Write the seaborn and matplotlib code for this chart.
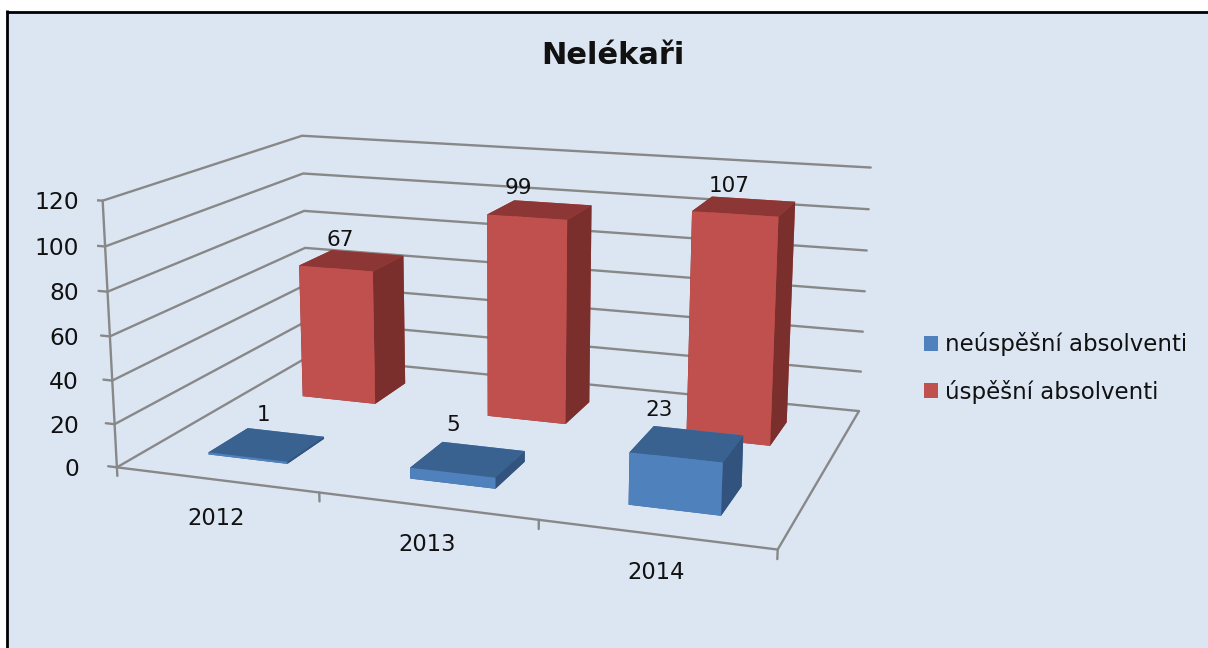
import matplotlib
matplotlib.use("Agg")
import matplotlib.pyplot as plt
from matplotlib.patches import Patch, Rectangle
from mpl_toolkits.mplot3d import proj3d
import seaborn as sns

years = ["2012", "2013", "2014"]
series_names = ["neúspěšní absolventi", "úspěšní absolventi"]
neuspesni = [1, 5, 23]
uspesni = [67, 99, 107]
z_ticks = [0, 20, 40, 60, 80, 100, 120]

W, H = 1208, 648

sns.set_theme(style="white")
plt.rcParams["font.family"] = ["DejaVu Sans"]

BG = "#DCE6F2"
GRID = "#888888"
TEXT = "#111111"
palette = sns.color_palette(["#4F81BD", "#C0504D"])
blue_faces = ["#4F81BD", "#3A6290", "#31537E"]  # front, top, side
red_faces = ["#C0504D", "#8C3735", "#7B2F2D"]

fig = plt.figure(figsize=(W / 100, H / 100), dpi=100, facecolor="white")
# chart area, black border only on left and top
fig.add_artist(Rectangle((8 / W, 0), 1, 1 - 12 / H, transform=fig.transFigure, facecolor=BG, edgecolor="none", zorder=-5))
fig.add_artist(plt.Line2D([7.5 / W, 7.5 / W], [0, 1 - 10 / H], color="black", lw=2, solid_capstyle="butt", zorder=-4))
fig.add_artist(plt.Line2D([6 / W, 1], [1 - 11.5 / H, 1 - 11.5 / H], color="black", lw=2, solid_capstyle="butt", zorder=-4))

# camera fitted against the reference's wall corners
side = 794.8
cx, cy = 494.8, 323.5
ax = fig.add_axes([(cx - side / 2) / W, 1 - (cy + side / 2) / H, side / W, side / H], projection="3d")
ax.patch.set_alpha(0)
ax.computed_zorder = False
ax.set_proj_type("persp", focal_length=0.4334)
ax.view_init(elev=14.06, azim=-70.36, roll=0)
ax.set_box_aspect((1, 0.6609, 0.4055), zoom=1.0)
ax.set_xlim(0, 3, view_margin=0)
ax.set_ylim(0, 2, view_margin=0)
ax.set_zlim(0, 120, view_margin=0)
ax.set_axis_off()

# walls and floor
for v in z_ticks:
    ax.plot([0, 0, 3], [0, 2, 2], [v, v, v], color=GRID, lw=1.7, zorder=1)
ax.plot([0, 3, 3], [0, 0, 2], [0, 0, 0], color=GRID, lw=1.7, zorder=1)
ax.plot([0, 0], [0, 0], [0, 120], color=GRID, lw=1.7, zorder=1)
for i in range(4):
    ax.plot([i, i], [0, 0], [0, -4], color=GRID, lw=1.7, zorder=1)
for v in z_ticks:
    ax.plot([0, -0.045], [0, 0], [v, v], color=GRID, lw=1.7, zorder=1)

# bars, back row first; bar3d faces: bottom, top, front, back, left, right
bar_w, bar_d = 0.4, 0.393
for row, vals, faces in [(1, uspesni, red_faces), (0, neuspesni, blue_faces)]:
    for i, val in enumerate(vals):
        colors = [faces[1], faces[1], faces[0], faces[0], faces[2], faces[2]]
        ax.bar3d(i + 0.5 - bar_w / 2, row + 0.5 - bar_d / 2, 0, bar_w, bar_d, val,
                 color=colors, shade=False, edgecolor="none", linewidth=0, zorder=3 + (1 - row))


def screen(x, y, z):
    tx, ty, _ = proj3d.proj_transform(x, y, z, ax.get_proj())
    return ax.transData.transform((tx, ty))


ax.apply_aspect()

# labels in pixels relative to the projected anchor
red_off = [(-12, 20), (-22, 22), (-15, 20)]
blue_off = [(-3, 29), (-15, 34), (-28, 34)]
for row, vals, offs in [(1, uspesni, red_off), (0, neuspesni, blue_off)]:
    for i, val in enumerate(vals):
        px, py = screen(i + 0.5, row + 0.5, val)
        fig.text((px + offs[i][0]) / W, (py + offs[i][1]) / H, str(val), ha="center", va="center",
                 fontsize=15.5, color=TEXT)

for i, y in enumerate(years):
    px, py = screen(i + 0.5, 0, 0)
    fig.text(px / W, (py - 38.5) / H, y, ha="center", va="center", fontsize=16.3, color=TEXT)

for v in z_ticks:
    px, py = screen(0, 0, v)
    fig.text(79 / W, (py - 2) / H, str(v), ha="right", va="center", fontsize=16.8, color=TEXT)

fig.text(612.5 / W, 1 - 55 / H, "Nelékaři", ha="center", va="center", fontsize=22, fontweight="bold", color=TEXT)

handles = [Patch(facecolor=palette[0], edgecolor="none"), Patch(facecolor=palette[1], edgecolor="none")]
fig.legend(handles, series_names, loc="center left", bbox_to_anchor=(924 / W, 1 - 368 / H), frameon=False,
           fontsize=16.5, handlelength=0.61, handleheight=0.61, handletextpad=0.3, labelspacing=1.02,
           borderpad=0, borderaxespad=0, labelcolor=TEXT)

fig.savefig("out.png", dpi=100)
